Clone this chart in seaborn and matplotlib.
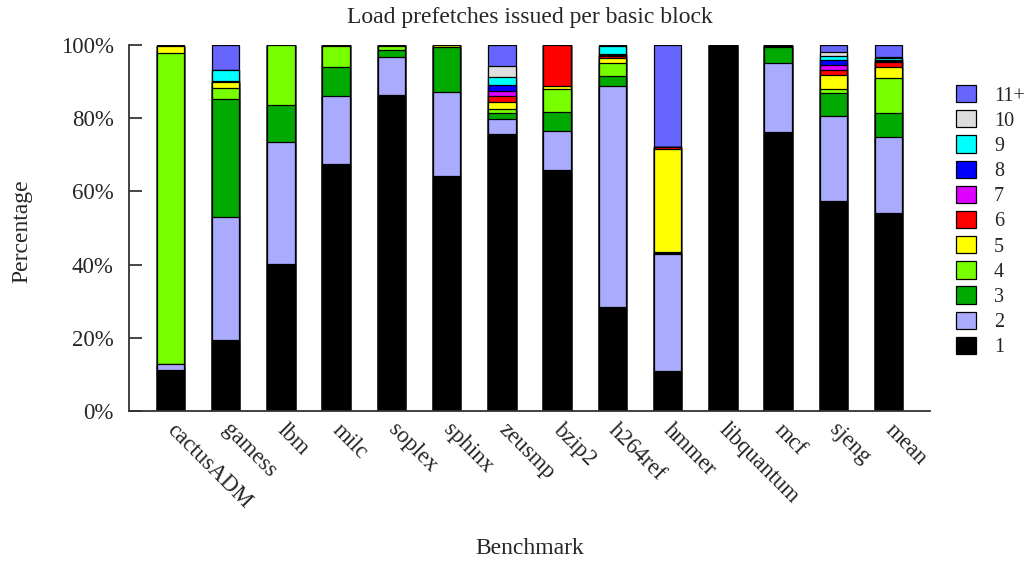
import matplotlib
matplotlib.use("Agg")
import matplotlib.pyplot as plt
import matplotlib.patches as mpatches
from matplotlib.transforms import ScaledTranslation
import seaborn as sns
import pandas as pd
import numpy as np

benchmarks = ["cactusADM", "gamess", "lbm", "milc", "soplex", "sphinx", "zeusmp",
              "bzip2", "h264ref", "hmmer", "libquantum", "mcf", "sjeng", "mean"]

# Percentage of basic blocks issuing N load prefetches
pf_1 = [11.2, 19.3, 40.3, 67.6, 86.3, 64.3, 75.8, 65.8, 28.4, 10.8, 100.0, 76.3, 57.3, 54.2]
pf_2 = [1.6, 33.7, 33.3, 18.5, 10.3, 22.8, 4.1, 10.7, 60.4, 32.1, 0.0, 18.9, 23.4, 20.7]
pf_3 = [0.0, 32.2, 9.9, 8.0, 2.1, 12.3, 1.4, 5.1, 2.8, 0.3, 0.0, 4.2, 6.2, 6.5]
pf_4 = [85.0, 3.0, 16.5, 5.6, 1.0, 0.0, 1.2, 6.3, 3.4, 0.2, 0.0, 0.4, 1.0, 9.6]
pf_5 = [1.8, 1.6, 0.0, 0.3, 0.3, 0.6, 1.8, 0.9, 1.4, 28.1, 0.0, 0.2, 3.8, 3.1]
pf_6 = [0.2, 0.2, 0.0, 0.0, 0.0, 0.0, 1.9, 11.2, 0.5, 0.5, 0.0, 0.0, 1.4, 1.2]
pf_7 = [0.0, 0.0, 0.0, 0.0, 0.0, 0.0, 1.3, 0.0, 0.3, 0.0, 0.0, 0.0, 1.3, 0.3]
pf_8 = [0.0, 0.2, 0.0, 0.0, 0.0, 0.0, 1.5, 0.0, 0.4, 0.0, 0.0, 0.0, 1.4, 0.3]
pf_9 = [0.0, 3.0, 0.0, 0.0, 0.0, 0.0, 2.3, 0.0, 2.0, 0.0, 0.0, 0.0, 1.1, 0.5]
pf_10 = [0.0, 0.0, 0.0, 0.0, 0.0, 0.0, 2.9, 0.0, 0.1, 0.0, 0.0, 0.0, 1.1, 0.3]
pf_11p = [0.2, 6.8, 0.0, 0.0, 0.0, 0.0, 5.8, 11.2, 0.3, 28.0, 0.0, 0.0, 2.0, 3.3]

levels = ["1", "2", "3", "4", "5", "6", "7", "8", "9", "10", "11+"]
series = [pf_1, pf_2, pf_3, pf_4, pf_5, pf_6, pf_7, pf_8, pf_9, pf_10, pf_11p]
colors = ["#000000", "#aaaaff", "#00aa00", "#77ff00", "#ffff00", "#ff0000",
          "#dd00ff", "#0000ff", "#00ffff", "#dddddd", "#6666ff"]

sns.set_style("white")
plt.rcParams["font.family"] = ["Liberation Serif", "DejaVu Serif"]

W, H = 1028, 563
fig = plt.figure(figsize=(W / 100, H / 100), dpi=100)
ax = fig.add_axes([129 / W, 1 - 411 / H, (930 - 129) / W, (411 - 45) / H])

# Stacked bars: draw cumulative totals from the top level down
cum = np.cumsum(np.array(series), axis=0)
for i in range(len(levels) - 1, -1, -1):
    df = pd.DataFrame({"benchmark": benchmarks, "value": cum[i]})
    sns.barplot(data=df, x="benchmark", y="value", color=colors[i], width=0.5,
                edgecolor="black", linewidth=0.9, saturation=1, ax=ax, order=benchmarks)

ax.set_xlim(-0.75, 13.75)
ax.set_ylim(0, 100)
ax.set_yticks([0, 20, 40, 60, 80, 100])
ax.set_yticklabels([f"{v}%" for v in [0, 20, 40, 60, 80, 100]], fontsize=16.5)
ax.tick_params(axis="y", direction="in", length=9, width=1.2, left=True, pad=11)
ax.tick_params(axis="x", length=0, pad=6)
ax.set_xticks(range(len(benchmarks)))
ax.set_xticklabels(benchmarks, rotation=-45, ha="left", va="top",
                   rotation_mode="anchor", fontsize=16.5)
shift = ScaledTranslation(7 / 100, 0, fig.dpi_scale_trans)
for lab in ax.get_xticklabels():
    lab.set_transform(lab.get_transform() + shift)

for s in ["top", "right"]:
    ax.spines[s].set_visible(False)
for s in ["left", "bottom"]:
    ax.spines[s].set_color("#333333")
    ax.spines[s].set_linewidth(1.3)

ax.set_xlabel("")
ax.set_ylabel("")
fig.text(530 / W, 1 - 18 / H, "Load prefetches issued per basic block",
         ha="center", va="center", fontsize=17)
fig.text(22 / W, 1 - 231 / H, "Percentage", rotation=90,
         ha="center", va="center", fontsize=17)
fig.text(530 / W, 1 - 548 / H, "Benchmark", ha="center", va="center", fontsize=17)

handles = [mpatches.Patch(facecolor=colors[i], edgecolor="black", linewidth=0.9, label=levels[i])
           for i in range(len(levels) - 1, -1, -1)]
fig.legend(handles=handles, loc="upper left", bbox_to_anchor=(948 / W, 1 - 77 / H),
           frameon=False, fontsize=14.5, handlelength=1.0, handleheight=0.94,
           labelspacing=0.23, handletextpad=0.88, borderaxespad=0)

fig.savefig("out.png", dpi=100)
